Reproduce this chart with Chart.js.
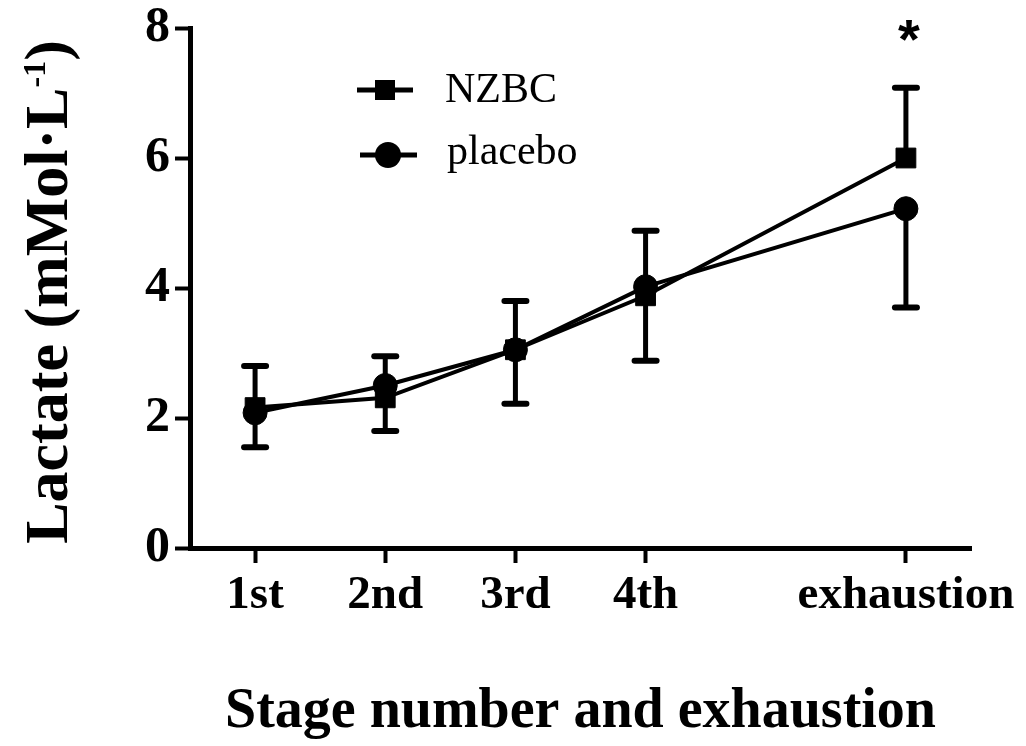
<!DOCTYPE html>
<html>
<head>
<meta charset="utf-8">
<script src="https://cdn.jsdelivr.net/npm/chart.js@4/dist/chart.umd.min.js"></script>
<style>
  body { margin: 0; background: #fff; }
  #wrap { width: 1026px; height: 746px; }
</style>
</head>
<body>
<div id="wrap"><canvas id="lactateChart" width="1026" height="746"></canvas></div>
<script>
// values
const stages = ["1st", "2nd", "3rd", "4th", "exhaustion"];
const stagePos = [1, 2, 3, 4, 6];
const nzbc = [2.16, 2.31, 3.05, 3.88, 6.0];
const placebo = [2.08, 2.5, 3.05, 4.02, 5.22];
const nzbcUpper = [2.8, 2.95, 3.8, 4.88, 7.08];     // error bar drawn up from NZBC
const placeboLower = [1.55, 1.8, 2.22, 2.88, 3.7];  // error bar drawn down from placebo
const yTicks = [0, 2, 4, 6, 8];

const serif = "'Liberation Serif', 'Times New Roman', serif";

// error bars, drawn under the markers
const errorBars = {
  id: "errorBars",
  beforeDatasetsDraw(chart) {
    const { ctx, scales: { x, y } } = chart;
    ctx.save();
    ctx.strokeStyle = "#000";
    stagePos.forEach((p, i) => {
      const px = x.getPixelForValue(p);
      const ends = [[nzbc[i], nzbcUpper[i]], [placebo[i], placeboLower[i]]];
      ends.forEach(([from, to]) => {
        ctx.lineWidth = 5;
        ctx.lineCap = "butt";
        ctx.beginPath();
        ctx.moveTo(px, y.getPixelForValue(from));
        ctx.lineTo(px, y.getPixelForValue(to));
        ctx.stroke();
        ctx.lineWidth = 6;
        ctx.lineCap = "round";
        ctx.beginPath();
        ctx.moveTo(px - 11, y.getPixelForValue(to));
        ctx.lineTo(px + 11, y.getPixelForValue(to));
        ctx.stroke();
      });
    });
    ctx.restore();
  }
};

// legend, y title with superscript, and the significance star
const extras = {
  id: "extras",
  afterDraw(chart) {
    const { ctx, chartArea, scales: { x } } = chart;
    ctx.save();
    ctx.fillStyle = "#000";
    ctx.strokeStyle = "#000";

    // legend
    ctx.lineWidth = 5;
    ctx.beginPath(); ctx.moveTo(357, 90); ctx.lineTo(413, 90); ctx.stroke();
    ctx.fillRect(375, 80, 20, 20);
    ctx.beginPath(); ctx.moveTo(360, 155); ctx.lineTo(417, 155); ctx.stroke();
    ctx.beginPath(); ctx.arc(388, 155, 13, 0, Math.PI * 2); ctx.fill();
    ctx.font = "42px " + serif;
    ctx.textBaseline = "alphabetic";
    ctx.textAlign = "left";
    ctx.fillText("NZBC", 445, 102);
    ctx.fillText("placebo", 447, 164);

    // y axis title
    const main = "Lactate (mMol\u00B7L";
    const big = "bold 62px " + serif;
    const small = "bold 32px " + serif;
    ctx.font = big; const w1 = ctx.measureText(main).width;
    const w3 = ctx.measureText(")").width;
    ctx.font = small; const w2 = ctx.measureText("-1").width;
    const total = w1 + w2 + w3;
    const cy = (chartArea.top + chartArea.bottom) / 2 + 4;
    ctx.translate(67, cy);
    ctx.rotate(-Math.PI / 2);
    let sx = -total / 2;
    ctx.font = big; ctx.fillText(main, sx, 0); sx += w1;
    ctx.font = small; ctx.fillText("-1", sx, -22); sx += w2;
    ctx.font = big; ctx.fillText(")", sx, 0);
    ctx.setTransform(1, 0, 0, 1, 0, 0);

    // star over exhaustion
    ctx.font = "bold 56px 'Liberation Sans', Arial, sans-serif";
    ctx.textAlign = "center";
    ctx.textBaseline = "alphabetic";
    ctx.fillText("*", x.getPixelForValue(6) + 3, 58);
    ctx.restore();
  }
};

const ctx = document.getElementById("lactateChart").getContext("2d");
new Chart(ctx, {
  type: "line",
  data: {
    datasets: [
      {
        label: "NZBC",
        data: stagePos.map((p, i) => ({ x: p, y: nzbc[i] })),
        borderColor: "#000",
        backgroundColor: "#000",
        borderWidth: 4,
        pointStyle: "rect",
        pointRadius: 14,
        pointBorderWidth: 1,
        tension: 0
      },
      {
        label: "placebo",
        data: stagePos.map((p, i) => ({ x: p, y: placebo[i] })),
        borderColor: "#000",
        backgroundColor: "#000",
        borderWidth: 4,
        pointStyle: "circle",
        pointRadius: 12,
        pointBorderWidth: 1,
        tension: 0
      }
    ]
  },
  options: {
    responsive: false,
    animation: false,
    layout: { padding: { top: 28, right: 55, left: 0, bottom: 0 } },
    plugins: { legend: { display: false }, tooltip: { enabled: false } },
    scales: {
      x: {
        type: "linear",
        min: 0.5,
        max: 6.5,
        afterBuildTicks: s => { s.ticks = stagePos.map(v => ({ value: v })); },
        afterFit: s => { s.height = 198; s.paddingLeft = 0; s.paddingRight = 0; },
        border: { color: "#000", width: 5 },
        grid: { drawOnChartArea: false, drawTicks: true, tickLength: 15, tickWidth: 4, tickColor: "#000" },
        ticks: {
          color: "#000",
          padding: 5,
          maxRotation: 0,
          autoSkip: false,
          font: { family: serif, size: 47, weight: "bold" },
          callback: v => stages[stagePos.indexOf(v)]
        },
        title: {
          display: true,
          text: "Stage number and exhaustion",
          color: "#000",
          padding: { top: 0, bottom: 0 },
          font: { family: serif, size: 56, weight: "bold" }
        }
      },
      y: {
        min: 0,
        max: 8,
        afterBuildTicks: s => { s.ticks = yTicks.map(v => ({ value: v })); },
        afterFit: s => { s.width = 190; s.paddingTop = 0; s.paddingBottom = 0; },
        border: { color: "#000", width: 5 },
        grid: { drawOnChartArea: false, drawTicks: true, tickLength: 15, tickWidth: 4, tickColor: "#000" },
        ticks: {
          color: "#000",
          padding: 5,
          font: { family: serif, size: 50, weight: "bold" }
        }
      }
    }
  },
  plugins: [errorBars, extras]
});
</script>
</body>
</html>
